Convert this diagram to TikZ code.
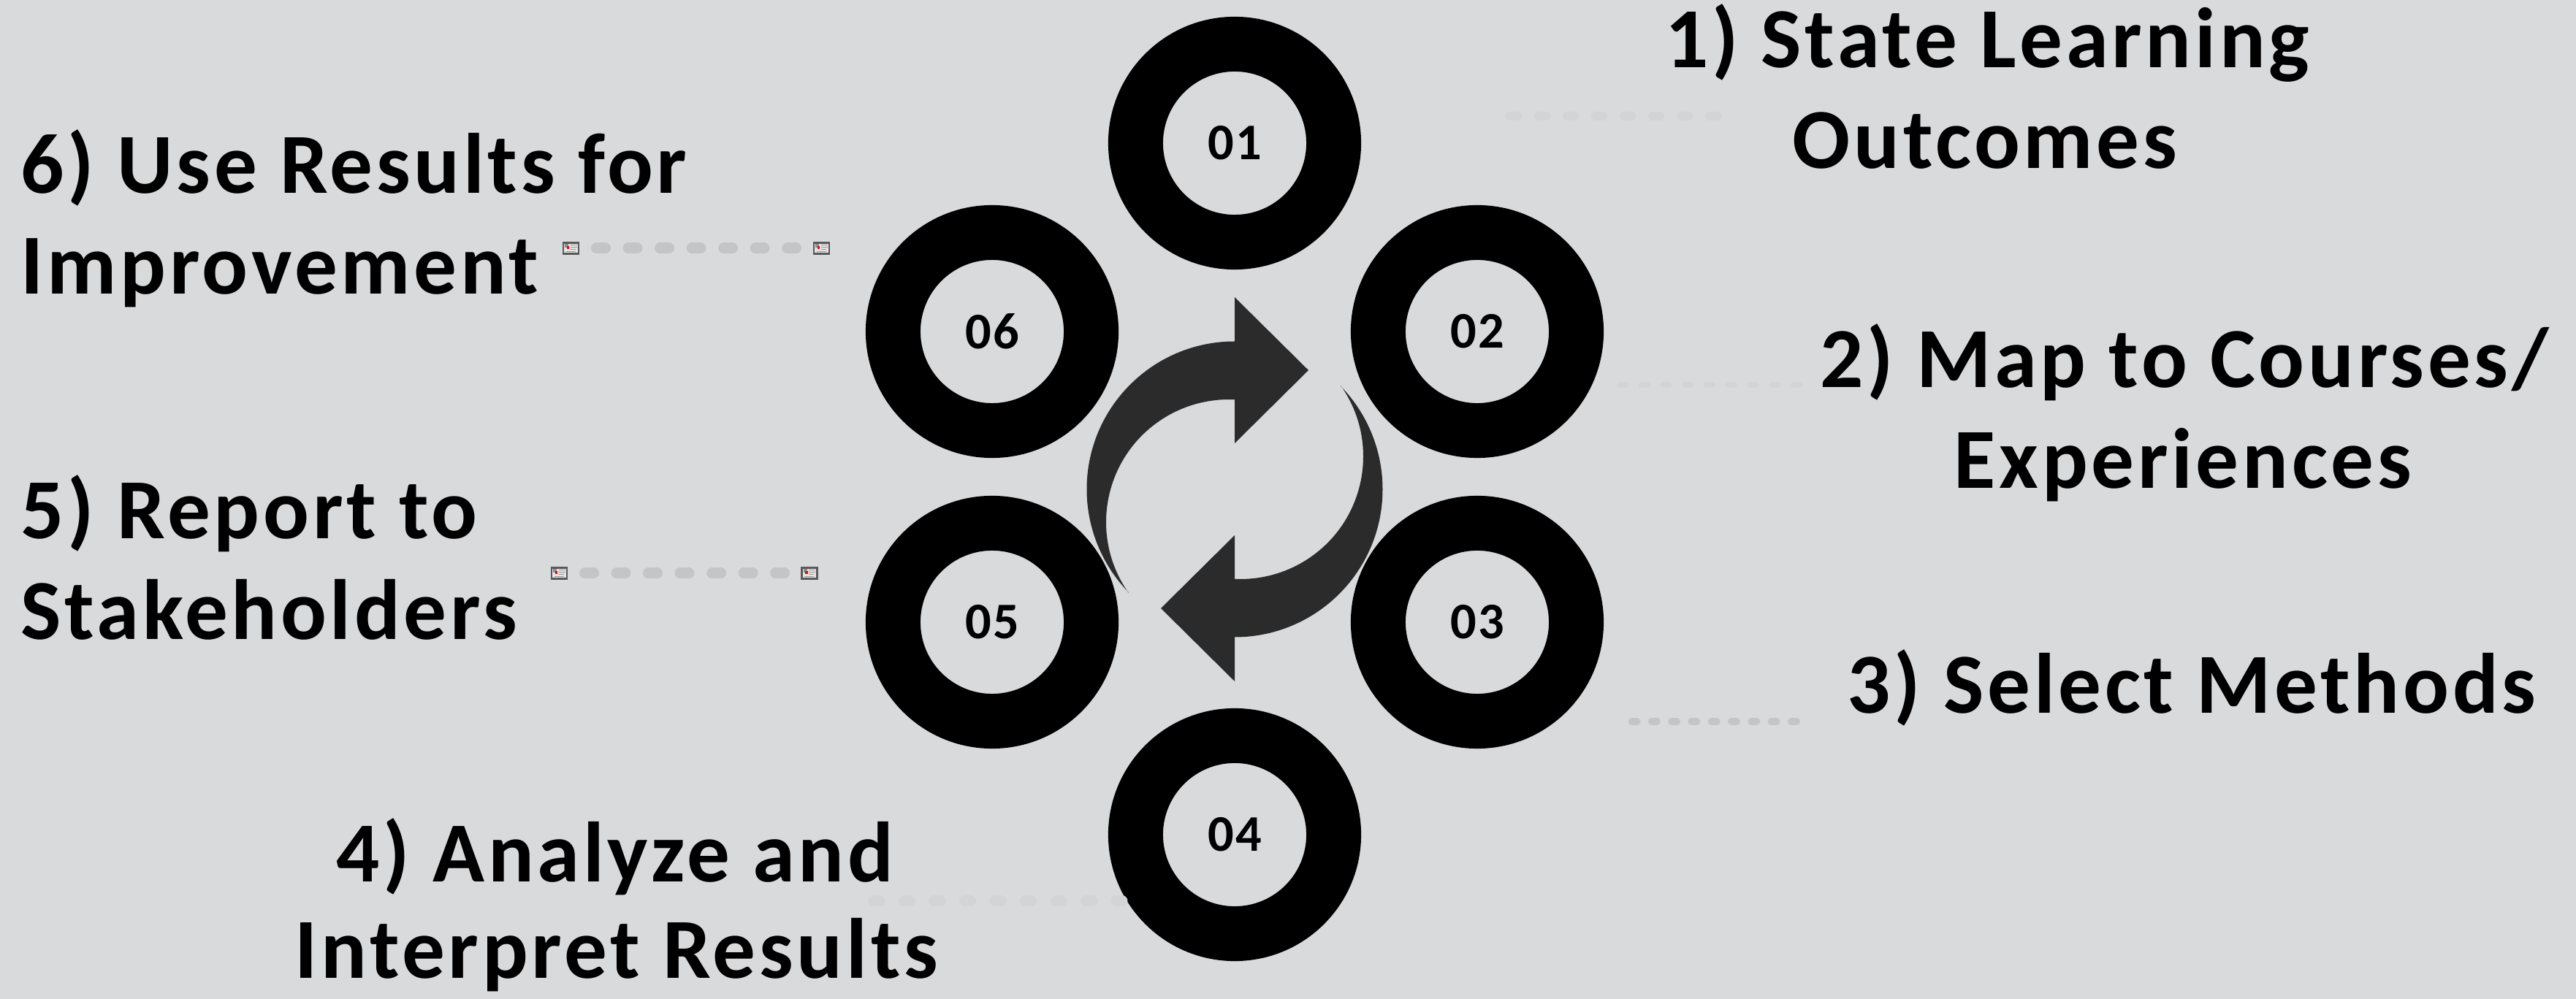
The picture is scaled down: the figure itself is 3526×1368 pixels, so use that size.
\documentclass[tikz,border=0pt]{standalone}
\usepackage{fontspec}
\setmainfont{Carlito}
\newfontfamily\labelfont[LetterSpace=4]{Carlito}
\newfontfamily\numfont[LetterSpace=3]{Carlito}
\definecolor{bg}{HTML}{D9DADC}
\definecolor{arrowc}{HTML}{2B2B2B}
\definecolor{pillc}{HTML}{C4C5C7}
\definecolor{faintc}{HTML}{D3D4D6}
\tikzset{
  ring/.style={circle, draw=black, line width=0.75cm, fill=bg, minimum size=2.71cm,
    inner sep=0pt, font=\numfont\bfseries\fontsize{20pt}{24pt}\selectfont},
  lbl/.style={inner sep=0pt, font=\labelfont\bfseries\fontsize{33.3pt}{39pt}\selectfont},
  pillline/.style={draw=pillc, line width=0.15cm, line cap=round, dash pattern=on 0.12cm off 0.315cm},
  brokenimg/.pic={
    \draw[draw=black!65, fill=white!90!black, line width=0.025cm] (-10.5,-7.5) rectangle (10.5,7.5);
    \fill[black!45] (-8.5,-5.5) rectangle (-3.5,-0.5);
    \fill[red] (-6,-2.5) rectangle (-2.5,1.5);
    \draw[black!40, line width=0.01cm] (-1,-4) -- (8,-4) (-1,-1) -- (8,-1) (-1,2) -- (6,2) (-7,5) -- (6,5);
  }
}
\begin{document}
\begin{tikzpicture}[x=0.01cm, y=-0.01cm]
\fill[bg] (0,0) rectangle (3526,1368);
\useasboundingbox (0,0) rectangle (3526,1368);

% rings
\node[ring] (c1) at (1690,196) {01};
\node[ring] (c2) at (2022,454) {02};
\node[ring] (c3) at (2022,852) {03};
\node[ring] (c4) at (1690,1143) {04};
\node[ring] (c5) at (1358,852) {05};
\node[ring] (c6) at (1358,454) {06};

% cycle arrows
\begin{scope}[shift={(1690,670)}, yscale=-1]
  \foreach \r in {0,180}{
    \begin{scope}[rotate=\r]
      \fill[arrowc] (0,202.5) arc[start angle=90, end angle=224, radius=202.5]
        -- (-145.1,-142.1) arc[start angle=215.3, end angle=87.3, radius=168] -- cycle;
      \fill[arrowc] (0,263) -- (101,163) -- (0,63) -- cycle;
    \end{scope}
  }
\end{scope}

% labels
\node[lbl, anchor=base] (t1a) at (2720,93) {1) State Learning};
\node[lbl, anchor=base] (t1b) at (2717,231) {Outcomes};
\node[lbl, anchor=base] (t2a) at (2990,531) {2) Map to Courses/};
\node[lbl, anchor=base] (t2b) at (2988,669) {Experiences};
\node[lbl, anchor=base] (t3) at (3000,977) {3) Select Methods};
\node[lbl, anchor=base] (t4a) at (842,1208) {4) Analyze and};
\node[lbl, anchor=base] (t4b) at (844,1340) {Interpret Results};
\node[lbl, anchor=base west] (t5a) at (28,738) {5) Report to};
\node[lbl, anchor=base west] (t5b) at (28,876) {Stakeholders};
\node[lbl, anchor=base west] (t6a) at (28,265) {6) Use Results for};
\node[lbl, anchor=base west] (t6b) at (28,403) {Improvement};

% left dotted leaders with image placeholders
\coordinate (p6a) at (816.5,340);
\coordinate (p6b) at (1089.5,340);
\coordinate (p5a) at (800.5,785);
\coordinate (p5b) at (1073.5,785);
\draw[pillline] (p6a) -- (p6b);
\draw[pillline] (p5a) -- (p5b);
\pic at (781.5,340) {brokenimg};
\pic at (1124.5,340) {brokenimg};
\pic at (765.5,785) {brokenimg};
\pic at (1108,785) {brokenimg};

% right leader for 3
\coordinate (p3a) at (2233.3,988);
\coordinate (p3b) at (2459.7,988);
\draw[draw=pillc, line width=0.093cm, line cap=round, dash pattern=on 0.077cm off 0.1955cm] (p3a) -- (p3b);

% faint leaders
\coordinate (p1a) at (2067,159);
\coordinate (p1b) at (2350,159);
\draw[draw=faintc, line width=0.12cm, line cap=round, dash pattern=on 0.10cm off 0.29cm] (p1a) -- (p1b);
\coordinate (p2a) at (2217,527);
\coordinate (p2b) at (2463,527);
\draw[draw=faintc, line width=0.08cm, line cap=round, dash pattern=on 0.08cm off 0.2175cm] (p2a) -- (p2b);
\coordinate (p4a) at (1196,1234);
\coordinate (p4b) at (1536,1234);
\draw[draw=faintc, line width=0.15cm, line cap=round, dash pattern=on 0.08cm off 0.335cm] (p4a) -- (p4b);
\end{tikzpicture}
\end{document}
